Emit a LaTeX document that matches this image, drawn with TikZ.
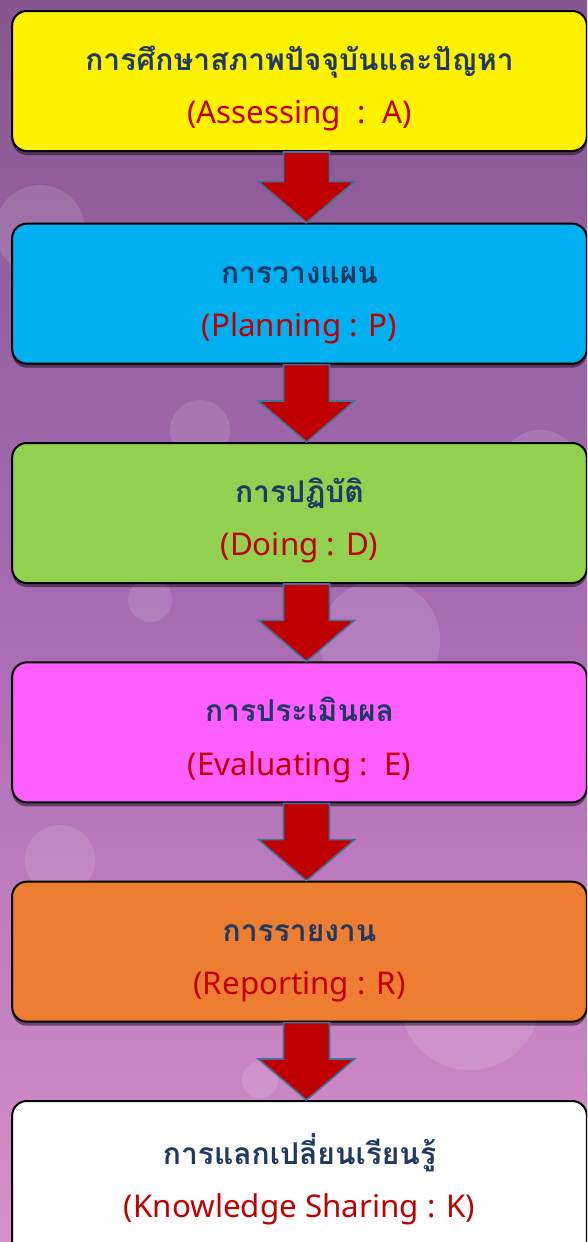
\documentclass[tikz,border=0pt]{standalone}
\usepackage{fontspec}
\newfontfamily\thaifont[Script=Thai]{Loma}
\newfontfamily\engfont{Noto Sans}
\usepackage{tikz}
\usetikzlibrary{positioning,calc,shadows}
\usepackage{xcolor}
\definecolor{thainavy}{HTML}{1F3864}
\definecolor{engred}{HTML}{C00000}
\definecolor{arrowline}{HTML}{41719C}
\definecolor{bgtop}{HTML}{86578F}
\definecolor{bgmid}{HTML}{A86CB3}
\definecolor{bgbot}{HTML}{D68FC9}

% block arrow from the bottom of one step to the top of the next
\newcommand{\steparrow}[2]{%
  \draw[step arrow] ($(#1.south)+(-16,0)$) -- ($(#2.north)+(-16,-41)$)
    -- ($(#2.north)+(-41,-41)$) -- ($(#2.north)+(7,0)$)
    -- ($(#2.north)+(55,-41)$) -- ($(#2.north)+(30,-41)$)
    -- ($(#1.south)+(30,0)$) -- cycle;}
\newcommand{\thline}[1]{\rule{0pt}{30pt}\textcolor{thainavy}{\thaifont\bfseries\fontsize{22.5}{40}\selectfont #1}}
\newcommand{\enline}[1]{\textcolor{engred}{\engfont\fontsize{23.5}{40}\selectfont #1}}

\begin{document}
\begin{tikzpicture}
      [x=0.75pt, y=-0.75pt, node distance=58pt,
      step box/.style={draw=black, line width=1.5pt, rounded corners=11pt, align=center,
        minimum width=431pt, minimum height=105pt, inner sep=0pt,
        font=\fontsize{20}{40}\selectfont,
        drop shadow={shadow xshift=0pt, shadow yshift=-3pt, opacity=0.45, fill=black}},
      step arrow/.style={draw=arrowline, line width=1.2pt, fill=engred, line join=miter},
      bokeh/.style={fill=white, opacity=0.12, draw=none},
      ]

      \clip (0,0) rectangle (587,1242);
      \shade[top color=bgtop, bottom color=bgbot, middle color=bgmid] (0,0) rectangle (587,1242);

      % background glow
      \fill[bokeh] (40,230) circle (45);
      \fill[bokeh] (200,430) circle (30);
      \fill[bokeh] (150,600) circle (22);
      \fill[bokeh] (380,640) circle (60);
      \fill[bokeh] (470,1000) circle (70);
      \fill[bokeh] (260,1080) circle (18);
      \fill[bokeh] (60,860) circle (35);
      \fill[bokeh] (540,470) circle (40);

      \node[step box, fill=yellow] (assess) at (299.5,81)
        {\thline{การศึกษาสภาพปัจจุบันและปัญหา}\\\enline{(Assessing~~:~~A)}};
      \node[step box, fill={rgb,255:red,0;green,176;blue,240}, below=53pt of assess] (plan)
        {\thline{การวางแผน}\\\enline{(Planning : P)}};
      \node[step box, fill={rgb,255:red,146;green,208;blue,80}, below=of plan] (doing)
        {\thline{การปฏิบัติ}\\\enline{(Doing : D)}};
      \node[step box, fill={rgb,255:red,255;green,94;blue,255}, below=of doing] (evaluate)
        {\thline{การประเมินผล}\\\enline{(Evaluating :~~E)}};
      \node[step box, fill={rgb,255:red,237;green,125;blue,49}, below=of evaluate] (report)
        {\thline{การรายงาน}\\\enline{(Reporting : R)}};
      \node[step box, fill=white, minimum height=145pt, below=of report] (share)
        {\thline{การแลกเปลี่ยนเรียนรู้}\\\enline{(Knowledge Sharing : K)}\\\mbox{}};

      \steparrow{assess}{plan}
      \steparrow{plan}{doing}
      \steparrow{doing}{evaluate}
      \steparrow{evaluate}{report}
      \steparrow{report}{share}
    \end{tikzpicture}
\end{document}
